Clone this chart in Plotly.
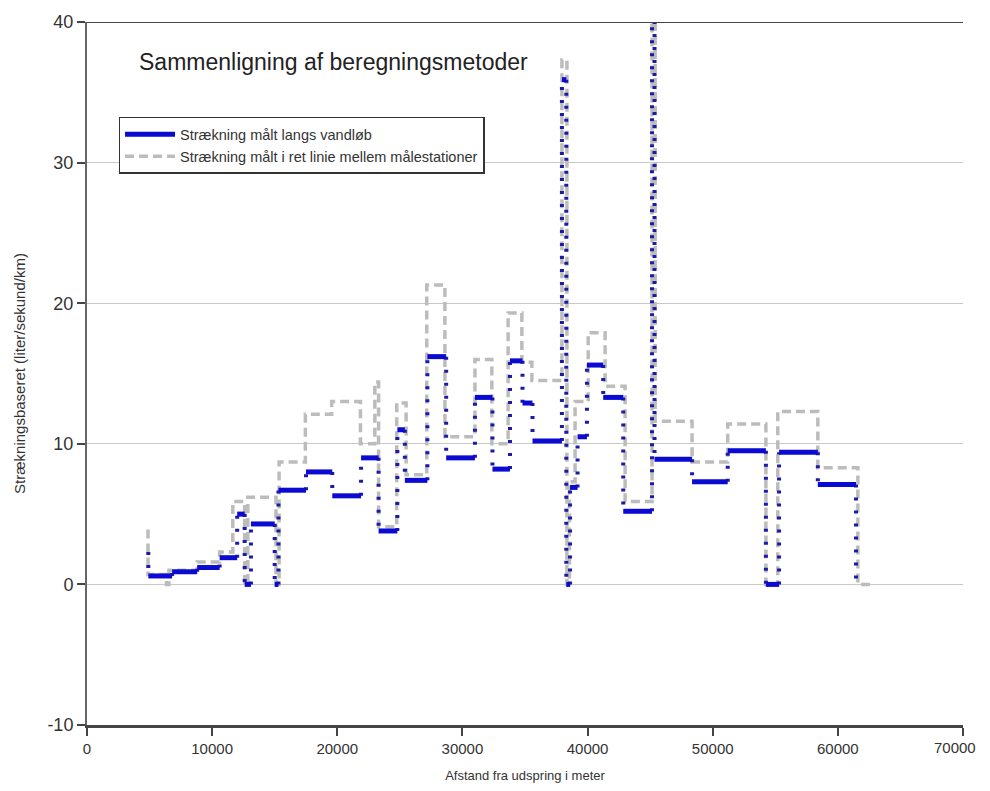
import plotly.graph_objects as go

# ---- data ----
blue_x = [4900, 4900, 6800, 8800, 10600, 12000, 12600, 13100, 15000, 15300, 17500, 19600,
          21900, 23300, 24800, 25400, 27200, 28700, 31000, 32400, 33800, 34800, 35600,
          37950, 38300, 38600, 39200, 39950, 41250, 42850, 45150, 45350, 48350, 51200,
          54250, 55300, 58400, 61450]
blue_y = [2.3, 0.6, 0.9, 1.2, 1.9, 5.0, 0.0, 4.3, 0.0, 6.7, 8.0, 6.3,
          9.0, 3.8, 11.0, 7.4, 16.2, 9.0, 13.3, 8.2, 15.9, 12.9, 10.2,
          35.9, 0.0, 6.9, 10.5, 15.6, 13.3, 5.2, 41.0, 8.9, 7.3, 9.5,
          0.0, 9.4, 7.1, 0.0]

gray_x = [4875, 4875, 6350, 6550, 8800, 10600, 11650, 12600, 12850, 15100, 15350, 17450,
          19550, 21850, 23000, 23300, 24750, 25500, 27150, 28600, 31000, 32350, 33650,
          34750, 35550, 37950, 38350, 38550, 39000, 40050, 41400, 43000, 45150, 45400,
          48350, 51200, 54250, 55200, 58400, 61600, 62600]
gray_y = [3.9, 0.7, 0.0, 1.0, 1.6, 2.3, 5.9, 0.0, 6.2, 0.0, 8.7, 12.1,
          13.0, 10.0, 14.4, 4.1, 12.9, 7.8, 21.3, 10.5, 16.0, 10.0, 19.3,
          15.8, 14.5, 37.3, 0.0, 7.3, 13.0, 17.9, 14.1, 5.9, 42.0, 11.6,
          8.7, 11.4, 0.0, 12.3, 8.3, 0.0, 0.0]

x_ticks = [0, 10000, 20000, 30000, 40000, 50000, 60000, 70000]
x_ticklabels = ["0", "10000", "20000", "30000", "40000", "50000", "60000", "70000"]
y_ticks = [-10, 0, 10, 20, 30, 40]
y_ticklabels = ["-10", "0", "10", "20", "30", "40"]

name_blue = "Strækning målt langs vandløb"
name_gray = "Strækning målt i ret linie mellem målestationer"
title_text = "Sammenligning af beregningsmetoder"
x_title = "Afstand fra udspring i meter"
y_title = "Strækningsbaseret (liter/sekund/km)"

# ---- split blue step line into horizontal (solid) and vertical (dotted) parts ----
hx, hy, vx, vy = [], [], [], []
for i in range(len(blue_x) - 1):
    hx += [blue_x[i], blue_x[i + 1], None]
    hy += [blue_y[i], blue_y[i], None]
    vx += [blue_x[i + 1], blue_x[i + 1], None]
    vy += [blue_y[i], blue_y[i + 1], None]

BLUE = "#0a0ad2"
GRAY = "#bcbcbc"
FONT = "Liberation Sans, Arial, sans-serif"
TICKFONT_X = dict(family=FONT, size=15, color="#333")

fig = go.Figure()
fig.add_trace(go.Scatter(x=gray_x, y=gray_y, mode="lines", line_shape="hv",
                         line=dict(color=GRAY, width=3.5, dash="9px,5px"),
                         name=name_gray, legendrank=2))
fig.add_trace(go.Scatter(x=vx, y=vy, mode="lines",
                         line=dict(color="#1b1ba8", width=4, dash="3px,10px"),
                         showlegend=False, hoverinfo="skip"))
fig.add_trace(go.Scatter(x=hx, y=hy, mode="lines",
                         line=dict(color=BLUE, width=5),
                         name=name_blue, legendrank=1))

fig.add_annotation(text=title_text, xref="paper", yref="paper", x=0.057, y=0.943,
                   xanchor="left", yanchor="middle", showarrow=False,
                   font=dict(family=FONT, size=23, color="#222"))

# last x tick label drawn as annotation so it stays inside the page (shifted left as in the reference)
fig.add_annotation(text=x_ticklabels[-1], xref="x", yref="paper", x=x_ticks[-1], y=0,
                   xanchor="center", yanchor="top", xshift=-8, yshift=-12,
                   showarrow=False, font=TICKFONT_X)

# top border line at y=40
fig.add_shape(type="line", xref="paper", yref="y", x0=0, x1=1, y0=40, y1=40,
              line=dict(color="#444", width=2), layer="above")

fig.update_layout(
    width=974, height=775,
    margin=dict(l=79, r=19, t=14, b=58, autoexpand=False),
    paper_bgcolor="white", plot_bgcolor="white",
    font=dict(family=FONT, color="#333"),
    legend=dict(x=0.036, y=0.865, xanchor="left", yanchor="top",
                bgcolor="white", bordercolor="#333", borderwidth=1.5,
                font=dict(size=14.5, color="#333"), tracegroupgap=4,
                itemwidth=50),
    showlegend=True,
)
fig.update_xaxes(range=[0, 70000], tickvals=x_ticks, ticktext=x_ticklabels[:-1] + [""],
                 automargin=False,
                 showgrid=False, zeroline=False, showline=True, linecolor="#444", linewidth=3,
                 ticks="outside", ticklen=8, tickcolor="#444", tickwidth=1.5,
                 tickfont=TICKFONT_X,
                 title=dict(text=x_title, font=dict(size=13, color="#333"), standoff=16))
fig.update_yaxes(range=[-10, 40], tickvals=y_ticks, ticktext=y_ticklabels,
                 automargin=False,
                 showgrid=True, gridcolor="#c8c8c8", gridwidth=1, zeroline=False,
                 showline=True, linecolor="#666", linewidth=2,
                 ticks="outside", ticklen=8, tickcolor="#444", tickwidth=1.5,
                 tickfont=dict(size=18, color="#333"),
                 title=dict(text=y_title, font=dict(size=15, color="#333"), standoff=18))

fig.write_html("out.html")
